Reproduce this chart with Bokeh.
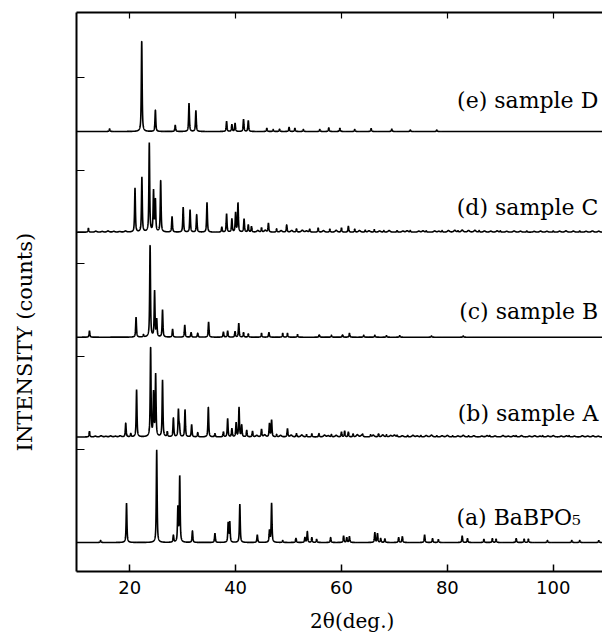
import numpy as np
from bokeh.plotting import figure
from bokeh.models import Range1d, LinearAxis, FixedTicker
from bokeh.models import Label
from bokeh.embed import file_html
from bokeh.resources import INLINE

# ---- data: peak positions (2theta, deg) and heights ----
E_POS = [16.2, 22.27, 24.85, 28.6, 31.2, 32.5, 38.3, 39.3, 39.9, 41.5, 42.4, 45.9, 47.1,
         48.3, 50.1, 51.2, 52.8, 55.9, 57.6, 59.7, 62.5, 65.6, 69.5, 73.0, 78.0]
E_INT = [2.7, 91, 21.7, 6.3, 28.3, 21, 10.3, 7, 8.3, 12.3, 11, 3.3, 2,
         2.3, 4.3, 3.3, 2, 2, 3.7, 3.3, 2, 3, 2.5, 1.5, 1.5]

D_POS = [12.2, 21.0, 22.3, 23.7, 24.5, 24.85, 25.85, 28.0, 30.1, 31.4, 32.65, 34.6, 37.4,
         38.3, 39.3, 40.0, 40.45, 41.6, 42.4, 43.0, 44.9, 46.2, 47.75, 49.65, 51.5, 54.0,
         55.6, 57.8, 60.0, 61.3, 62.5, 64.5, 66.2, 68.0, 70.5, 73.0, 76.0, 79.0, 82.0,
         86.0, 90.0, 95.0, 100.0, 105.0]
D_INT = [4, 44, 55, 89, 40.7, 31.7, 51.7, 15.7, 25, 22.3, 17.7, 29.7, 5,
         18.3, 13.3, 19.3, 29, 13.3, 7.3, 5.7, 4.3, 9, 3.3, 7.3, 3.3, 3,
         4.3, 3, 4.3, 6, 3, 2, 2.5, 1.5, 1.5, 1.5, 1.2, 1.5, 1.2,
         1.5, 1.2, 1.2, 1.2, 1.2]
# small baseline wiggles of pattern (d)
D_BG_POS = [13.6, 14.8, 15.9, 17.0, 18.1, 19.2, 44.2, 45.6, 48.6, 50.6, 52.6, 53.4, 56.6,
            59.0, 63.4, 65.2, 67.2, 69.0, 71.6, 72.4, 74.6, 75.4, 77.6, 78.4, 80.2, 81.4,
            82.8, 84.0, 85.2, 87.0, 88.2, 89.4, 91.2, 92.6, 93.8, 96.4, 97.6, 98.8, 101.2,
            102.4, 103.8, 106.2, 107.4, 108.6]
D_BG_INT = [1.0, 0.7, 1.2, 0.8, 0.6, 1.1, 1.6, 1.8, 1.5, 1.6, 1.9, 1.2, 1.5,
            1.8, 1.6, 1.4, 1.2, 1.6, 1.1, 1.4, 1.0, 1.3, 1.2, 0.9, 1.6, 1.8,
            2.0, 1.6, 1.8, 1.2, 1.0, 1.3, 0.9, 1.2, 1.0, 0.8, 1.1, 0.9, 1.0,
            1.3, 1.1, 0.9, 1.2, 1.0]

C_POS = [12.4, 21.2, 22.6, 23.85, 24.7, 25.1, 26.2, 28.1, 30.4, 31.6, 32.85, 34.9, 37.7,
         38.5, 39.9, 40.6, 41.5, 42.4, 44.9, 46.3, 48.9, 49.8, 51.7, 55.8, 58.1, 60.2,
         61.5, 64.2, 66.3, 68.5, 71.0, 77.0, 83.0]
C_INT = [6.3, 20, 2.3, 92.3, 45.7, 17, 27.3, 8, 12.3, 4.7, 4, 15.3, 5.3,
         6.3, 5.7, 14, 4.7, 3.3, 4, 4.7, 4, 4, 2.7, 2.3, 2, 2.3,
         4, 2, 2, 1.5, 1.5, 1.2, 1.2]

B_POS = [12.4, 19.25, 20.2, 21.3, 23.95, 24.5, 24.9, 26.2, 27.1, 28.25, 29.2, 29.4, 30.45,
         31.7, 32.85, 34.85, 36.1, 37.7, 38.5, 39.3, 40.1, 40.65, 41.15, 42.1, 43.2, 44.9,
         46.4, 46.8, 47.75, 49.8, 51.5, 53.4, 54.4, 55.75, 58.1, 60.0, 60.6, 61.3, 62.2,
         64.0, 65.5, 67.0, 68.5, 70.5, 72.5, 75.0, 78.0, 81.0, 84.0, 88.0, 93.0, 98.0, 103.0]
B_INT = [5.7, 14, 3.3, 47.3, 89.3, 43, 61.7, 56.7, 5, 19, 26.7, 10, 27.3,
         12.3, 4.3, 30, 3.3, 5, 18.3, 8.3, 14, 29.3, 11.7, 6.7, 5.7, 7.7,
         13.3, 16.7, 2.3, 8.3, 3.3, 2.3, 3.3, 3.3, 2.3, 5, 6, 5, 3,
         2, 2, 3, 2, 1.5, 1.5, 1.5, 1.2, 1.2, 1.2, 1.2, 1.2, 1.2, 1.2]
# small baseline wiggles of pattern (b)
B_BG_POS = [13.5, 14.6, 15.5, 16.4, 17.3, 18.2, 44.0, 45.5, 48.5, 50.5, 52.5, 56.8, 57.5,
            59.0, 63.0, 63.8, 66.0, 67.8, 69.3, 70.0, 71.5, 73.5, 74.3, 76.0, 77.0, 79.0,
            80.0, 82.0, 83.0, 85.0, 86.5, 87.5, 89.0, 90.5, 91.5, 92.5, 94.0, 95.5, 96.5,
            97.5, 99.0, 100.0, 101.5, 102.5, 104.0, 105.5, 106.5, 107.5, 108.5]
B_BG_INT = [0.8, 1.2, 0.6, 1.0, 0.7, 1.1, 1.5, 2.0, 1.5, 1.8, 2.0, 1.8, 1.2,
            1.6, 2.2, 1.5, 1.8, 2.0, 1.4, 1.8, 1.2, 1.6, 1.0, 1.4, 1.8, 1.2,
            1.5, 1.0, 1.6, 1.2, 0.9, 1.3, 1.0, 1.4, 0.8, 1.1, 1.3, 0.9, 1.2,
            0.8, 1.0, 1.3, 0.9, 1.1, 0.8, 1.2, 0.9, 1.1, 0.8]

A_POS = [14.5, 19.4, 25.1, 28.25, 29.1, 29.45, 31.85, 36.1, 38.6, 38.9, 40.8, 44.1, 46.4,
         46.8, 48.9, 51.4, 53.1, 53.55, 54.4, 55.3, 57.95, 60.4, 61.0, 61.5, 66.3, 66.8,
         67.4, 68.2, 70.8, 71.5, 75.7, 77.2, 78.3, 82.8, 83.8, 86.9, 88.5, 89.2, 93.0,
         94.5, 95.3, 98.9, 103.5, 105.0, 108.6]
A_INT = [2, 39.3, 92.7, 7, 34.3, 66, 11.7, 9.3, 19.3, 20.3, 38.3, 7.7, 11.7,
         39.3, 2, 4.3, 5, 11, 5, 3.3, 5, 6.7, 5, 6, 10, 9,
         4, 3.7, 5, 6, 7.7, 4, 3, 6.7, 4, 3.3, 4, 3.5, 4,
         3.5, 3.5, 2, 2, 2, 2]

LABELS = ["(a) BaBPO\u2085", "(b) sample A", "(c) sample B", "(d) sample C", "(e) sample D"]
OFFSETS = [29, 134.5, 234.3, 339.3, 440]          # stacking offset of each pattern
LABEL_Y = [54, 158, 260, 364, 471]
LABEL_X = [105.2, 108.5, 108.5, 108.5, 108.5]
X_TICKS = [20, 40, 60, 80, 100]
Y_TICKS = [29, 122, 215, 308, 401, 494]

X = np.arange(10.0, 109.5, 0.02)


def profile(pos, hts, fwhm=0.18):
    g = fwhm / 2.0
    y = np.zeros_like(X)
    for p, h in zip(pos, hts):
        d = X - p
        y += h * (0.7 * g * g / (d * d + g * g) + 0.3 * np.exp(-4 * np.log(2) * d * d / fwhm ** 2))
    return y


SERIES = [(A_POS, A_INT, [], []), (B_POS, B_INT, B_BG_POS, B_BG_INT), (C_POS, C_INT, [], []),
          (D_POS, D_INT, D_BG_POS, D_BG_INT), (E_POS, E_INT, [], [])]

p = figure(width=602, height=637, output_backend="svg", toolbar_location=None,
           x_range=Range1d(9.95, 109.3), y_range=Range1d(0, 559),
           min_border_left=76, min_border_right=0, min_border_top=12, min_border_bottom=66)
p.outline_line_color = None
p.grid.grid_line_color = None
p.background_fill_color = "white"

for (pos, hts, bpos, bhts), off in zip(SERIES, OFFSETS):
    y = profile(pos, hts) + profile(bpos, bhts, fwhm=0.45) + off
    p.line(X, y, line_color="black", line_width=1.6)

for txt, lx, ly in zip(LABELS, LABEL_X, LABEL_Y):
    p.add_layout(Label(x=lx, y=ly, text=txt, text_align="right", text_baseline="middle",
                       text_font="DejaVu Serif", text_font_size="22px", text_color="black"))

NB = "\u00a0"

# bottom axis
xa = p.xaxis[0]
xa.ticker = FixedTicker(ticks=X_TICKS)
xa.major_tick_in = 7
xa.major_tick_out = 0
xa.minor_tick_line_color = None
xa.axis_line_width = 2
xa.major_tick_line_width = 1.5
xa.major_label_text_font = "DejaVu Sans"
xa.major_label_text_font_size = "18px"
xa.major_label_text_color = "black"
xa.major_label_standoff = 9
xa.axis_label = NB * 4 + "2\u03b8(deg.)"
xa.axis_label_text_font = "DejaVu Serif"
xa.axis_label_text_font_style = "normal"
xa.axis_label_text_font_size = "20px"
xa.axis_label_text_color = "black"
xa.axis_label_standoff = 12

# left axis
ya = p.yaxis[0]
ya.ticker = FixedTicker(ticks=Y_TICKS)
ya.major_tick_in = 8
ya.major_tick_out = 0
ya.minor_tick_line_color = None
ya.axis_line_width = 2
ya.major_tick_line_width = 1.2
ya.major_label_overrides = {t: "" for t in Y_TICKS}
ya.major_label_standoff = 0
ya.axis_label = "INTENSITY (counts)" + NB * 15
ya.axis_label_text_font = "DejaVu Serif"
ya.axis_label_text_font_style = "normal"
ya.axis_label_text_font_size = "21px"
ya.axis_label_text_color = "black"
ya.axis_label_standoff = 40

# top axis (ticks only)
ta = LinearAxis(ticker=FixedTicker(ticks=X_TICKS), major_tick_in=6, major_tick_out=0,
                minor_tick_line_color=None, axis_line_width=2, major_tick_line_width=1.2,
                major_label_overrides={t: "" for t in X_TICKS}, major_label_standoff=0)
p.add_layout(ta, "above")

open("out.html", "w").write(file_html(p, INLINE))
